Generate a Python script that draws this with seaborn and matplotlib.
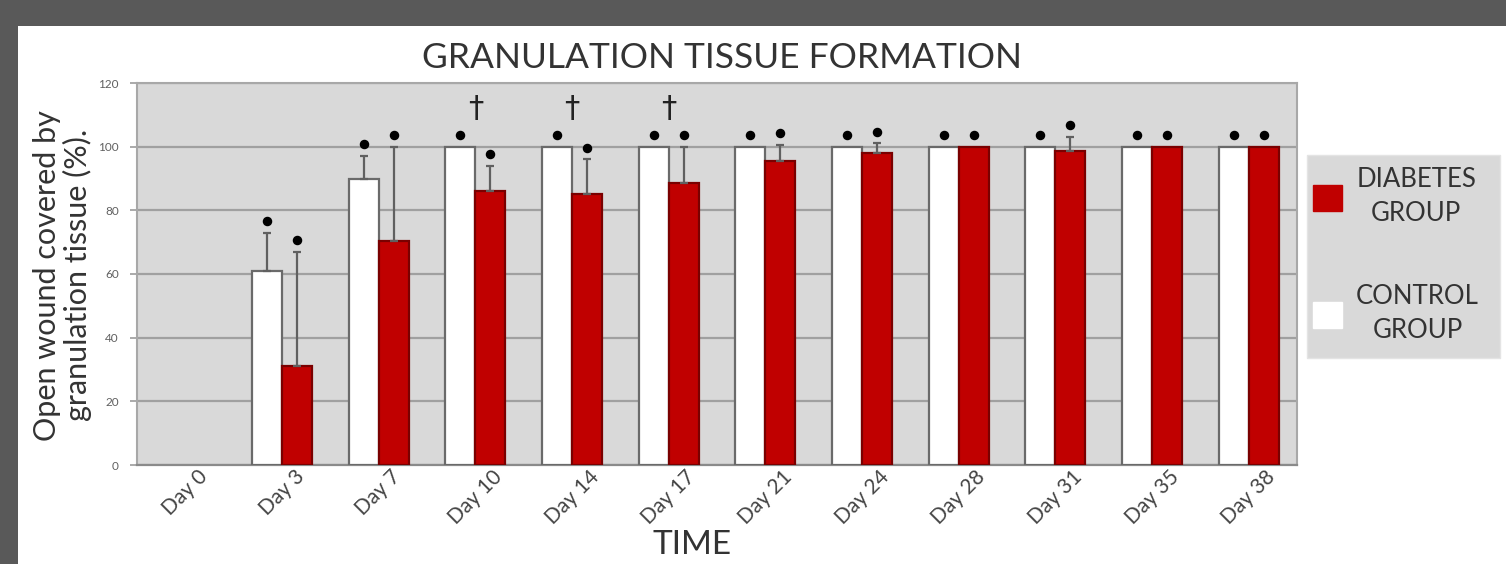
import matplotlib
matplotlib.use("Agg")
import matplotlib.pyplot as plt
import matplotlib.patches as mpatches
import seaborn as sns
import pandas as pd
import numpy as np

days = ["Day 0", "Day 3", "Day 7", "Day 10", "Day 14", "Day 17", "Day 21",
        "Day 24", "Day 28", "Day 31", "Day 35", "Day 38"]
control = [0, 61, 90, 100, 100, 100, 100, 100, 100, 100, 100, 100]
control_err_top = [0, 73, 97, 100, 100, 100, 100, 100, 100, 100, 100, 100]
diabetes = [0, 31, 70.5, 86, 85, 88.5, 95.5, 98, 100, 98.5, 100, 100]
diabetes_err_top = [0, 67, 100, 94, 96, 100, 100.6, 101, 100, 103, 100, 100]
dagger_days = ["Day 10", "Day 14", "Day 17"]
yticks = [0, 20, 40, 60, 80, 100, 120]

groups = ["CONTROL GROUP", "DIABETES GROUP"]
colors = {"CONTROL GROUP": "#ffffff", "DIABETES GROUP": "#c00000"}

df = pd.DataFrame({
    "day": days * 2,
    "group": [groups[0]] * len(days) + [groups[1]] * len(days),
    "value": control + diabetes,
})

sns.set_theme(style="white")
plt.rcParams["font.family"] = ["Lato", "DejaVu Sans"]

W, H = 1506, 564
fig = plt.figure(figsize=(W / 100, H / 100), dpi=100)
fig.patch.set_facecolor("#595959")
bg = mpatches.Rectangle((18 / W, 0), 1, (H - 26) / H,
                        transform=fig.transFigure, facecolor="white",
                        edgecolor="none", zorder=-10)
fig.add_artist(bg)

ax = fig.add_axes([137 / W, (H - 465) / H, (1297 - 137) / W, (465 - 83) / H])
ax.set_zorder(1)
ax.set_facecolor("#d9d9d9")

sns.barplot(data=df, x="day", y="value", hue="group", order=days, hue_order=groups,
            palette=colors, saturation=1, width=0.62, edgecolor="#6a6a6a", linewidth=1.6,
            legend=False, ax=ax, zorder=3, errorbar=None)
for p in ax.containers[1]:
    p.set_edgecolor("#7a0000")
for cont in ax.containers:
    for p in cont:
        if p.get_height() == 0:
            p.set_visible(False)

ax.set_ylim(0, 120)
ax.set_xlim(-0.5, len(days) - 0.5)
ax.set_yticks(yticks)
ax.set_yticklabels([str(t) for t in yticks], fontsize=8.5, color="#606060")
ax.yaxis.grid(True, color="#a0a0a0", linewidth=1.6, zorder=0)
ax.set_axisbelow(True)
for s in ["top", "right", "left"]:
    ax.spines[s].set_color("#a8a8a8")
    ax.spines[s].set_linewidth(1.5)
ax.spines["bottom"].set_color("#8a8a8a")
ax.spines["bottom"].set_linewidth(1.6)
ax.tick_params(axis="y", length=5, color="#a0a0a0", pad=8, left=True)
ax.tick_params(axis="x", length=0, pad=1)
ax.set_xticks(range(len(days)))
ax.set_xticklabels(days, rotation=45, ha="center", va="top", fontsize=15, color="#454545")

for cont, tops, vals in [(ax.containers[0], control_err_top, control),
                         (ax.containers[1], diabetes_err_top, diabetes)]:
    xs = [p.get_x() + p.get_width() / 2 for p in cont]
    for x, v, t, d in zip(xs, vals, tops, days):
        if d == "Day 0":
            continue
        if t > v:
            ax.errorbar([x], [v], yerr=[[0], [t - v]], fmt="none", ecolor="#606060",
                        elinewidth=1.6, capsize=3, capthick=1.6, zorder=4)
        ax.scatter([x], [max(t, v) + 3.7], s=34, color="black", zorder=5)

for d in dagger_days:
    ax.text(days.index(d), 107.5, "†", ha="center", va="bottom", fontsize=22,
            color="#222222", zorder=5, family=["DejaVu Sans"])

ax.set_xlabel("")
ax.set_ylabel("Open wound covered by\ngranulation tissue (%).", fontsize=22,
              color="#333333", labelpad=0, linespacing=1.05)
ax.yaxis.set_label_coords(-0.039, 0.497)

fig.text(722 / W, 1 - 58 / H, "GRANULATION TISSUE FORMATION", ha="center",
         va="center", fontsize=25.5, color="#333333")
fig.text(692 / W, 1 - 545 / H, "TIME", ha="center", va="center",
         fontsize=24, color="#333333")

# legend box
legbox = mpatches.Rectangle((1307 / W, 1 - 358 / H), (1500 - 1307) / W, (358 - 155) / H,
                            transform=fig.transFigure, facecolor="#d9d9d9",
                            edgecolor="#e4e4e4", linewidth=1, zorder=1)
fig.add_artist(legbox)
handles = [mpatches.Patch(facecolor=colors["DIABETES GROUP"], edgecolor="#c00000"),
           mpatches.Patch(facecolor=colors["CONTROL GROUP"], edgecolor="white")]
leg = fig.legend(handles, ["DIABETES\nGROUP", "CONTROL\nGROUP"],
                 loc="center left", bbox_to_anchor=(1313 / W, 1 - 255 / H),
                 borderaxespad=0, frameon=False, fontsize=18.5,
                 handlelength=1.13, handleheight=1.17, labelspacing=2.25, borderpad=0,
                 handletextpad=0.55)
leg.set_zorder(2)
for t in leg.get_texts():
    t.set_multialignment("center")
    t.set_linespacing(1.45)
    t.set_color("#333333")

fig.savefig("out.png", dpi=100, facecolor=fig.get_facecolor())
